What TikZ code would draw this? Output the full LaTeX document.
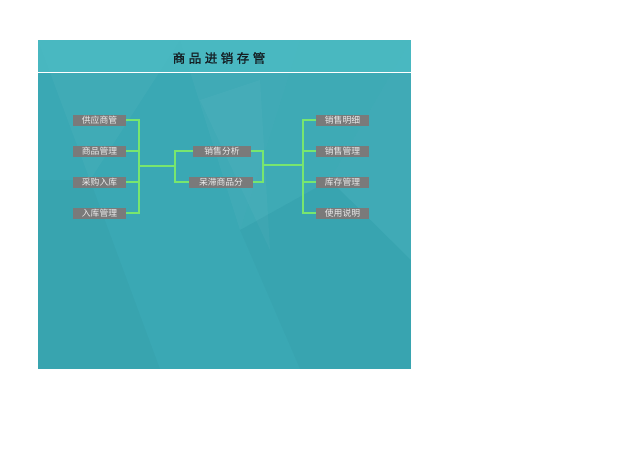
\documentclass[tikz,border=0pt]{standalone}
\usepackage{fontspec}
\newfontfamily\cjk[AutoFakeBold=1.2]{Noto Sans CJK SC}
\definecolor{panel}{RGB}{58,168,180}
\definecolor{panellight}{RGB}{78,190,198}
\definecolor{boxgray}{RGB}{122,122,122}
\definecolor{boxtext}{RGB}{236,236,236}
\definecolor{linkgreen}{RGB}{120,230,110}
\definecolor{titlecol}{RGB}{20,30,35}
\tikzset{
  x=1pt,y=-1pt,
  item/.style={fill=boxgray, text=boxtext, font=\cjk\fontsize{8.8}{8.8}\selectfont, minimum width=53pt, minimum height=11pt, inner sep=0pt},
  link/.style={draw=linkgreen, line width=1.5pt},
  facet/.style={fill=white, draw=none}
}
\begin{document}
\begin{tikzpicture}
\useasboundingbox (0,0) rectangle (640,453);
\fill[white] (0,0) rectangle (640,453);
% panel
\fill[panel] (38,40) rectangle (411,369);
% low-poly texture
\begin{scope}
\clip (38,40) rectangle (411,369);
\fill[facet, opacity=0.035] (38,40) -- (180,40) -- (90,180) -- cycle;
\fill[facet, opacity=0.03] (180,40) -- (300,40) -- (240,230) -- cycle;
\fill[facet, opacity=0.025] (240,230) -- (300,40) -- (411,40) -- (330,180) -- cycle;
\fill[facet, opacity=0.03] (330,180) -- (411,40) -- (411,260) -- cycle;
\fill[black, opacity=0.025] (38,180) -- (90,180) -- (160,369) -- (38,369) -- cycle;
\fill[black, opacity=0.02] (240,230) -- (330,180) -- (411,260) -- (411,369) -- (300,369) -- cycle;
\fill[facet, opacity=0.03] (200,100) -- (260,80) -- (270,250) -- cycle;
\end{scope}
% header
\fill[panellight, opacity=0.7] (38,40) rectangle (411,72);
\draw[white, line width=1.2pt] (38,72.5) -- (411,72.5);
\node[text=titlecol, font=\cjk\bfseries\fontsize{12.5}{12.5}\selectfont] (title) at (219,58) {商\hspace{3.5pt}品\hspace{3.5pt}进\hspace{3.5pt}销\hspace{3.5pt}存\hspace{3.5pt}管};
% left items
\node[item] (l1) at (99.5,120) {供应商管};
\node[item] (l2) at (99.5,151) {商品管理};
\node[item] (l3) at (99.5,182) {采购入库};
\node[item] (l4) at (99.5,213) {入库管理};
% middle items
\node[item, minimum width=57.5pt] (m1) at (222,151) {销售分析};
\node[item, minimum width=63.5pt] (m2) at (221,182) {呆滞商品分};
% right items
\node[item] (r1) at (342.5,120) {销售明细};
\node[item] (r2) at (342.5,151) {销售管理};
\node[item] (r3) at (342.5,182) {库存管理};
\node[item] (r4) at (342.5,213) {使用说明};
% junctions
\coordinate (lb) at (139,166);
\coordinate (mb) at (175,166);
\coordinate (rb) at (263,165);
\coordinate (rb2) at (303,165);
% connectors
\draw[link] (l1.east) -| (lb);
\draw[link] (l2.east) -| (lb);
\draw[link] (l3.east) -| (lb);
\draw[link] (l4.east) -| (lb);
\draw[link] (lb) -- (mb);
\draw[link] (mb) |- (m1.west);
\draw[link] (mb) |- (m2.west);
\draw[link] (m1.east) -| (rb);
\draw[link] (m2.east) -| (rb);
\draw[link] (rb) -- (rb2);
\draw[link] (rb2) |- (r1.west);
\draw[link] (rb2) |- (r2.west);
\draw[link] (rb2) |- (r3.west);
\draw[link] (rb2) |- (r4.west);
\end{tikzpicture}
\end{document}
